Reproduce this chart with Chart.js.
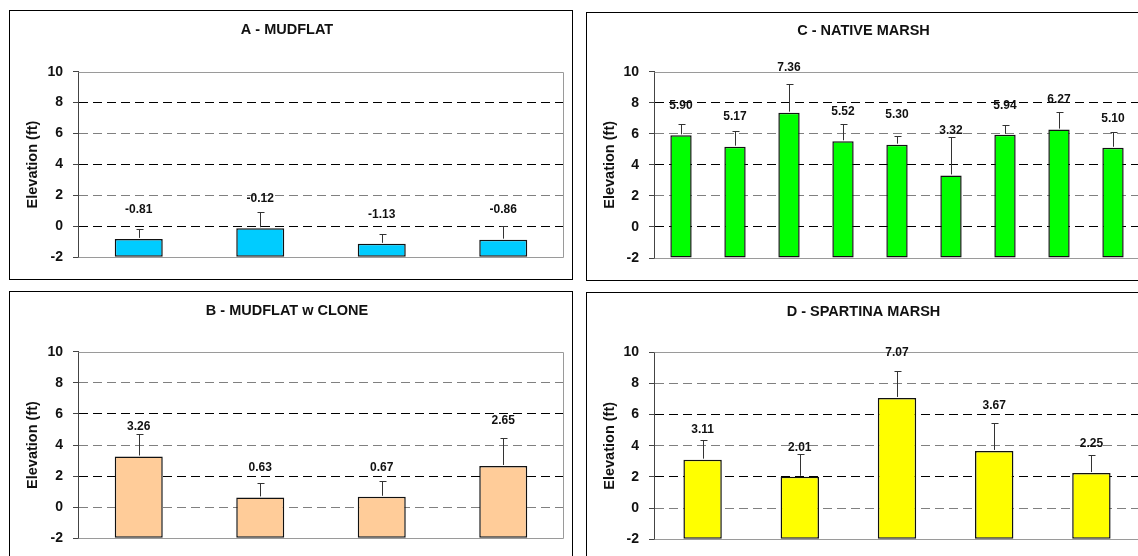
<!DOCTYPE html>
<html><head><meta charset="utf-8">
<script src="https://cdn.jsdelivr.net/npm/chart.js@4/dist/chart.umd.min.js"></script>
<style>
html,body{margin:0;padding:0;background:#fff;overflow:hidden;width:1138px;height:556px;}
.panel{position:absolute;border:1px solid #000;background:#fff;width:562px;height:268px;}
.panel canvas{display:block;}
</style></head><body>
<div class="panel" style="left:9px;top:10px"><canvas id="cA" width="562" height="268"></canvas></div>
<div class="panel" style="left:586px;top:12px;height:267px"><canvas id="cC" width="562" height="267"></canvas></div>
<div class="panel" style="left:9px;top:291px"><canvas id="cB" width="562" height="268"></canvas></div>
<div class="panel" style="left:586px;top:292px"><canvas id="cD" width="562" height="268"></canvas></div>
<script>
// ---- data ----
const yTicks = [-2, 0, 2, 4, 6, 8, 10];
const yTitle = 'Elevation (ft)';

const mudflatTitle = 'A - MUDFLAT';
const mudflatCats = ['1', '2', '3', '4'];
const mudflatValues = [-0.81, -0.12, -1.13, -0.86];
const mudflatErrors = [0.64, 1.05, 0.64, 0.89];

const cloneTitle = 'B - MUDFLAT w CLONE';
const cloneCats = ['1', '2', '3', '4'];
const cloneValues = [3.26, 0.63, 0.67, 2.65];
const cloneErrors = [1.47, 0.91, 1.02, 1.83];

const nativeTitle = 'C - NATIVE MARSH';
const nativeCats = ['1', '2', '3', '4', '5', '6', '7', '8', '9'];
const nativeValues = [5.90, 5.17, 7.36, 5.52, 5.30, 3.32, 5.94, 6.27, 5.10];
const nativeErrors = [0.76, 1.04, 1.83, 1.14, 0.59, 2.50, 0.63, 1.14, 1.00];

const spartinaTitle = 'D - SPARTINA MARSH';
const spartinaCats = ['1', '2', '3', '4', '5'];
const spartinaValues = [3.11, 2.01, 7.07, 3.67, 2.25];
const spartinaErrors = [1.29, 1.46, 1.76, 1.79, 1.17];

const FONT = "'Liberation Sans', Arial, sans-serif";

const decor = {
  id: 'decor',
  beforeDatasetsDraw(chart) {
    const a = chart.chartArea, ctx = chart.ctx;
    const l = Math.round(a.left) + 0.5, r = Math.round(a.right) - 0.5;
    const t = Math.round(a.top) + 0.5, b = Math.round(a.bottom) + 0.5;
    ctx.save();
    ctx.strokeStyle = '#9a9a9a';
    ctx.lineWidth = 1;
    ctx.beginPath();
    ctx.moveTo(l, t); ctx.lineTo(r, t); ctx.lineTo(r, b); ctx.lineTo(l, b);
    ctx.stroke();
    ctx.restore();
  },
  afterDatasetsDraw(chart) {
    const ctx = chart.ctx, ys = chart.scales.y;
    const ds = chart.data.datasets[0];
    const errs = ds.errors;
    const meta = chart.getDatasetMeta(0);
    ctx.save();
    meta.data.forEach((bar, i) => {
      const v = ds.data[i], e = errs[i];
      const x = Math.round(bar.x) + 0.5;
      const yTop = ys.getPixelForValue(v);
      const yErr = Math.round(ys.getPixelForValue(v + e)) + 0.5;
      ctx.strokeStyle = '#333';
      ctx.lineWidth = 1;
      ctx.beginPath();
      ctx.moveTo(x, yTop - 1); ctx.lineTo(x, yErr);
      ctx.moveTo(x - 3, yErr); ctx.lineTo(x + 4, yErr);
      ctx.stroke();
      let ly = yTop - 29.5;
      if (yErr < ly + 5) ly = yTop - 45;
      ctx.fillStyle = '#111';
      ctx.font = 'bold 12px ' + FONT;
      ctx.textAlign = 'center';
      ctx.textBaseline = 'middle';
      ctx.fillText(v.toFixed(2), bar.x, ly);
    });
    ctx.restore();
  }
};

function makeChart(id, title, cats, values, errors, color, g) {
  const titleY = g.titleY, plotTop = g.plotTop;
  new Chart(document.getElementById(id), {
    type: 'bar',
    data: {
      labels: cats,
      datasets: [{
        data: values,
        errors: errors,
        base: -2,
        backgroundColor: color,
        borderColor: '#111',
        borderWidth: 1.5,
        borderSkipped: false,
        barPercentage: 0.395,
        categoryPercentage: 1
      }]
    },
    options: {
      responsive: false,
      animation: false,
      events: [],
      layout: { padding: { top: 0, left: 0, right: g.right, bottom: g.bottom } },
      plugins: {
        legend: { display: false },
        tooltip: { enabled: false },
        title: {
          display: true,
          text: title,
          color: '#111',
          font: { family: FONT, size: 14.5, weight: 'bold', lineHeight: 1.2 },
          padding: { top: titleY - 8.7, bottom: plotTop - titleY - 8.7 }
        }
      },
      scales: {
        x: { display: false },
        y: {
          min: -2, max: 10,
          afterBuildTicks: (s) => { s.ticks = yTicks.map(v => ({ value: v })); },
          afterFit: (s) => { s.width = g.left; },
          ticks: {
            color: '#111',
            padding: 10,
            font: { family: FONT, size: 14, weight: 'bold' },
            callback: (v) => String(v)
          },
          grid: {
            drawTicks: true,
            tickLength: 5,
            tickColor: '#444',
            tickBorderDash: [],
            lineWidth: 1,
            color: (c) => {
              const v = c.tick ? c.tick.value : 0;
              if (v === -2 || v === 10) return 'rgba(0,0,0,0)';
              return (((v % 4) + 4) % 4 === g.parity) ? '#000' : '#808080';
            }
          },
          border: { display: true, color: '#444', width: 1, dash: [9, 5] },
          title: {
            display: true,
            text: yTitle,
            color: '#111',
            font: { family: FONT, size: 14.5, weight: 'bold', lineHeight: 1.2 },
            padding: { top: 14.5, bottom: 0 }
          }
        }
      }
    },
    plugins: [decor]
  });
}

makeChart('cA', mudflatTitle, mudflatCats, mudflatValues, mudflatErrors, '#00CCFF',
  { titleY: 19, plotTop: 60.7, left: 68, right: 8, bottom: 21.7, parity: 0 });
makeChart('cC', nativeTitle, nativeCats, nativeValues, nativeErrors, '#00FF00',
  { titleY: 17.5, plotTop: 58.7, left: 67, right: 9, bottom: 22, parity: 0 });
makeChart('cB', cloneTitle, cloneCats, cloneValues, cloneErrors, '#FFCC99',
  { titleY: 19, plotTop: 59.7, left: 68, right: 8, bottom: 21.7, parity: 2 });
makeChart('cD', spartinaTitle, spartinaCats, spartinaValues, spartinaErrors, '#FFFF00',
  { titleY: 18.7, plotTop: 59.3, left: 67, right: 9, bottom: 21.7, parity: 2 });
</script>
</body></html>
